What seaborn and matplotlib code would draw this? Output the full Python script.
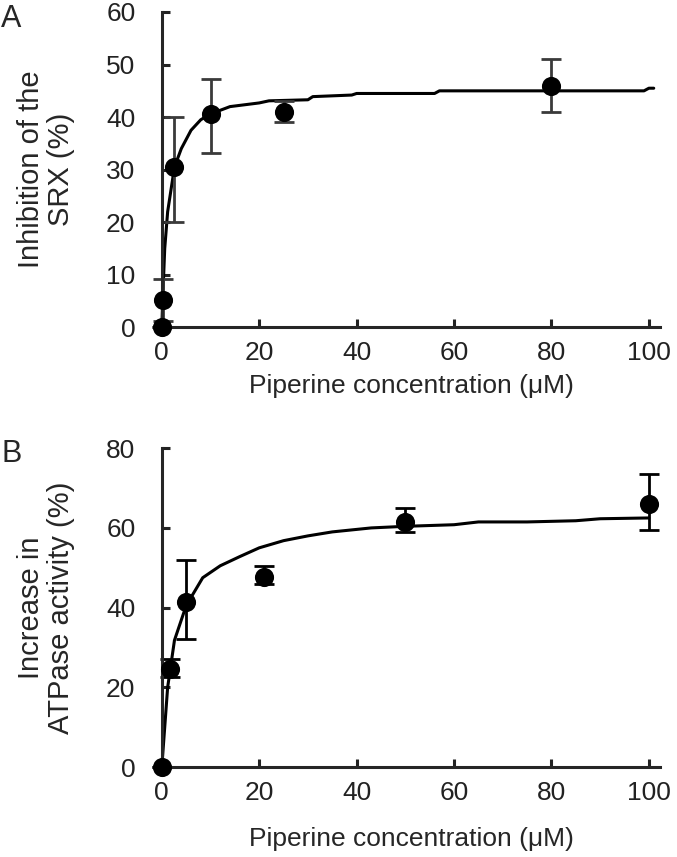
import numpy as np
import matplotlib
matplotlib.use("Agg")
import matplotlib.pyplot as plt
import seaborn as sns

# panel A: inhibition of the SRX
conc_a = [0, 0.2, 2.6, 10, 25, 80]
srx_a = [0, 5.2, 30.5, 40.5, 41, 46]
err_lo_a = [0, 4.0, 10.5, 7.3, 2.0, 5.0]
err_hi_a = [0, 4.0, 9.5, 6.7, 2.0, 5.0]
fit_x_a = [0, 0.3, 0.6, 1.2, 2.6, 4, 6, 8, 10, 14, 20, 22, 30, 31, 39, 40, 56, 57, 99, 100, 101]
fit_y_a = [0, 8, 15, 22, 30.5, 34, 37.5, 39.5, 40.6, 42.0, 42.7, 43.1, 43.3, 43.9, 44.2, 44.5, 44.5, 45.0, 45.0, 45.5, 45.5]

# panel B: increase in ATPase activity
conc_b = [0, 1.7, 5, 21, 50, 100]
atp_b = [0, 24.7, 41.5, 47.8, 61.5, 66]
err_lo_b = [0, 2.2, 9.5, 1.8, 2.5, 6.5]
err_hi_b = [0, 2.5, 10.4, 2.6, 3.5, 7.5]
fit_x_b = [0, 1.2, 2.6, 5, 8.4, 12, 16, 20, 25, 30, 35, 43, 50, 60, 65, 75, 85, 90, 100]
fit_y_b = [0, 20, 31.8, 40.5, 47.5, 50.5, 52.8, 55.0, 56.8, 58.0, 59.0, 60.0, 60.4, 60.8, 61.5, 61.5, 61.8, 62.3, 62.5]

sns.set_style("ticks")
plt.rcParams['font.family'] = ['Liberation Sans', 'DejaVu Sans']

fig = plt.figure(figsize=(6.77, 8.57), dpi=100)
ax_a = fig.add_axes([0.239, 0.618, 0.736, 0.368])
ax_b = fig.add_axes([0.239, 0.105, 0.736, 0.372])

panels = [
    (ax_a, conc_a, srx_a, err_lo_a, err_hi_a, fit_x_a, fit_y_a, 60, 10,
     'Inhibition of the\nSRX (%)', 'A', '#3a3a3a', 6, 0.995),
    (ax_b, conc_b, atp_b, err_lo_b, err_hi_b, fit_x_b, fit_y_b, 80, 20,
     'Increase in\nATPase activity (%)', 'B', 'black', 16, 0.488),
]

for ax, x, y, lo, hi, fx, fy, ymax, ystep, ylab, tag, ecol, xpad, ty in panels:
    sns.lineplot(x=fx, y=fy, ax=ax, color='black', lw=2.2, clip_on=False)
    ax.errorbar(x, y, yerr=[lo, hi], fmt='none', ecolor=ecol, elinewidth=2,
                capsize=7, capthick=2, clip_on=False)
    sns.scatterplot(x=x, y=y, ax=ax, color='black', s=190, edgecolor='black',
                    linewidth=0, zorder=5, clip_on=False)
    ax.set_xlim(0, 102.3)
    ax.set_ylim(0, ymax)
    ax.set_xticks(np.arange(0, 101, 20))
    ax.set_yticks(np.arange(0, ymax + 1, ystep))
    sns.despine(ax=ax)
    for s in ['left', 'bottom']:
        ax.spines[s].set_linewidth(2.2)
    ax.tick_params(direction='in', length=6, width=2.2, labelsize=19,
                   colors='#222222')
    ax.tick_params(axis='x', pad=10)
    ax.tick_params(axis='y', pad=19)
    ax.set_xlabel('Piperine concentration (μM)', fontsize=19, labelpad=xpad)
    ax.set_ylabel(ylab, fontsize=21, labelpad=22, linespacing=1.1)
    fig.text(0.002, ty, tag, fontsize=22, va='top', ha='left')

fig.savefig('out.png', dpi=100)
